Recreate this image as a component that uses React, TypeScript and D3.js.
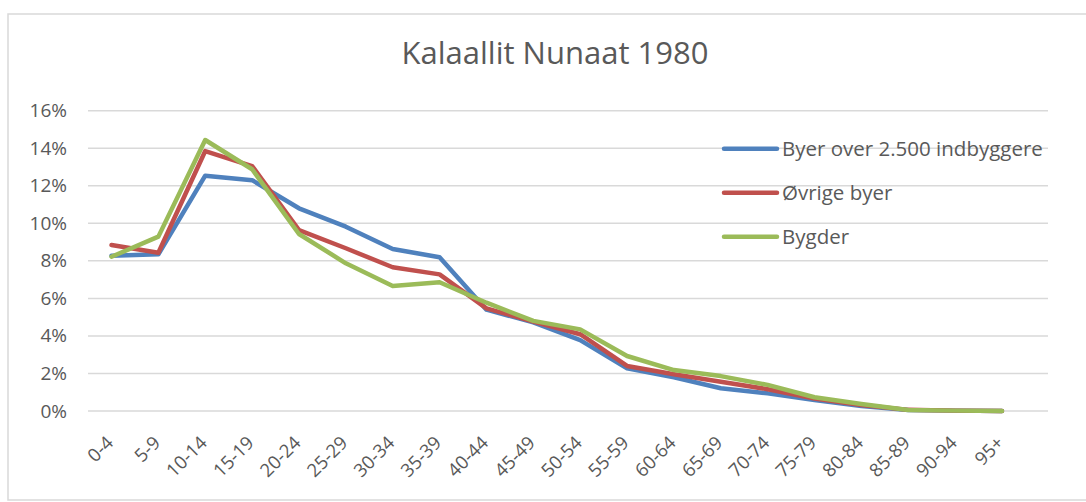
import React from "react";
import * as d3 from "d3";

const categories = ["0-4","5-9","10-14","15-19","20-24","25-29","30-34","35-39","40-44","45-49","50-54","55-59","60-64","65-69","70-74","75-79","80-84","85-89","90-94","95+"];
const byer = [8.27, 8.35, 12.54, 12.3, 10.8, 9.82, 8.63, 8.19, 5.4, 4.72, 3.78, 2.27, 1.8, 1.21, 0.94, 0.59, 0.27, 0.05, 0.02, 0.0];
const ovrige = [8.84, 8.43, 13.85, 13.05, 9.64, 8.67, 7.66, 7.28, 5.47, 4.76, 4.09, 2.4, 1.96, 1.56, 1.16, 0.66, 0.32, 0.06, 0.02, 0.0];
const bygder = [8.22, 9.29, 14.44, 12.88, 9.43, 7.87, 6.66, 6.86, 5.77, 4.8, 4.35, 2.93, 2.18, 1.86, 1.39, 0.73, 0.37, 0.05, 0.02, 0.0];
const yTicks = [0, 2, 4, 6, 8, 10, 12, 14, 16];
const seriesNames = ["Byer over 2.500 indbyggere", "Øvrige byer", "Bygder"];
const seriesColors = ["#4F81BD", "#C0504D", "#9BBB59"];
const title = "Kalaallit Nunaat 1980";

export default function App() {
  const font = "'Open Sans', sans-serif";
  const x = d3.scalePoint<string>().domain(categories).range([111.5, 1002]);
  const y = d3.scaleLinear().domain([0, 16]).range([411, 110.7]);
  const line = d3.line<number>().x((_, i) => x(categories[i]) as number).y((d) => y(d));
  const data = [byer, ovrige, bygder];
  const gridX0 = 88, gridX1 = 1048;
  return (
    <svg width={1086} height={502} style={{ position: "absolute", left: 0, top: 0, background: "#fff" }}>
      <rect x={8} y={14} width={1090} height={486} fill="#fff" stroke="#D9D9D9" strokeWidth={1.5} />
      <text x={555} y={64} textAnchor="middle" fontFamily={font} fontSize={31} fill="#595959">{title}</text>
      {yTicks.map((t) => (
        <g key={t}>
          <line x1={gridX0} x2={gridX1} y1={y(t)} y2={y(t)} stroke="#D9D9D9" strokeWidth={1.5} />
          <text x={67} y={y(t) + 6.5} textAnchor="end" fontFamily={font} fontSize={19} fill="#595959">{t}%</text>
        </g>
      ))}
      {categories.map((c) => {
        const px = (x(c) as number) + 3;
        const py = 444;
        return (
          <text key={c} x={px} y={py} textAnchor="end" transform={`rotate(-45 ${px} ${py})`} fontFamily={font} fontSize={18.5} fill="#595959">{c}</text>
        );
      })}
      {data.map((s, i) => (
        <path key={i} d={line(s) as string} fill="none" stroke={seriesColors[i]} strokeWidth={4.5} strokeLinejoin="round" strokeLinecap="round" />
      ))}
      {seriesNames.map((n, i) => {
        const ly = 148.7 + i * 44;
        return (
          <g key={n}>
            <line x1={724} x2={777} y1={ly} y2={ly} stroke={seriesColors[i]} strokeWidth={4.5} strokeLinecap="round" />
            <text x={782} y={ly + 7} fontFamily={font} fontSize={20.5} fill="#595959">{n}</text>
          </g>
        );
      })}
    </svg>
  );
}
